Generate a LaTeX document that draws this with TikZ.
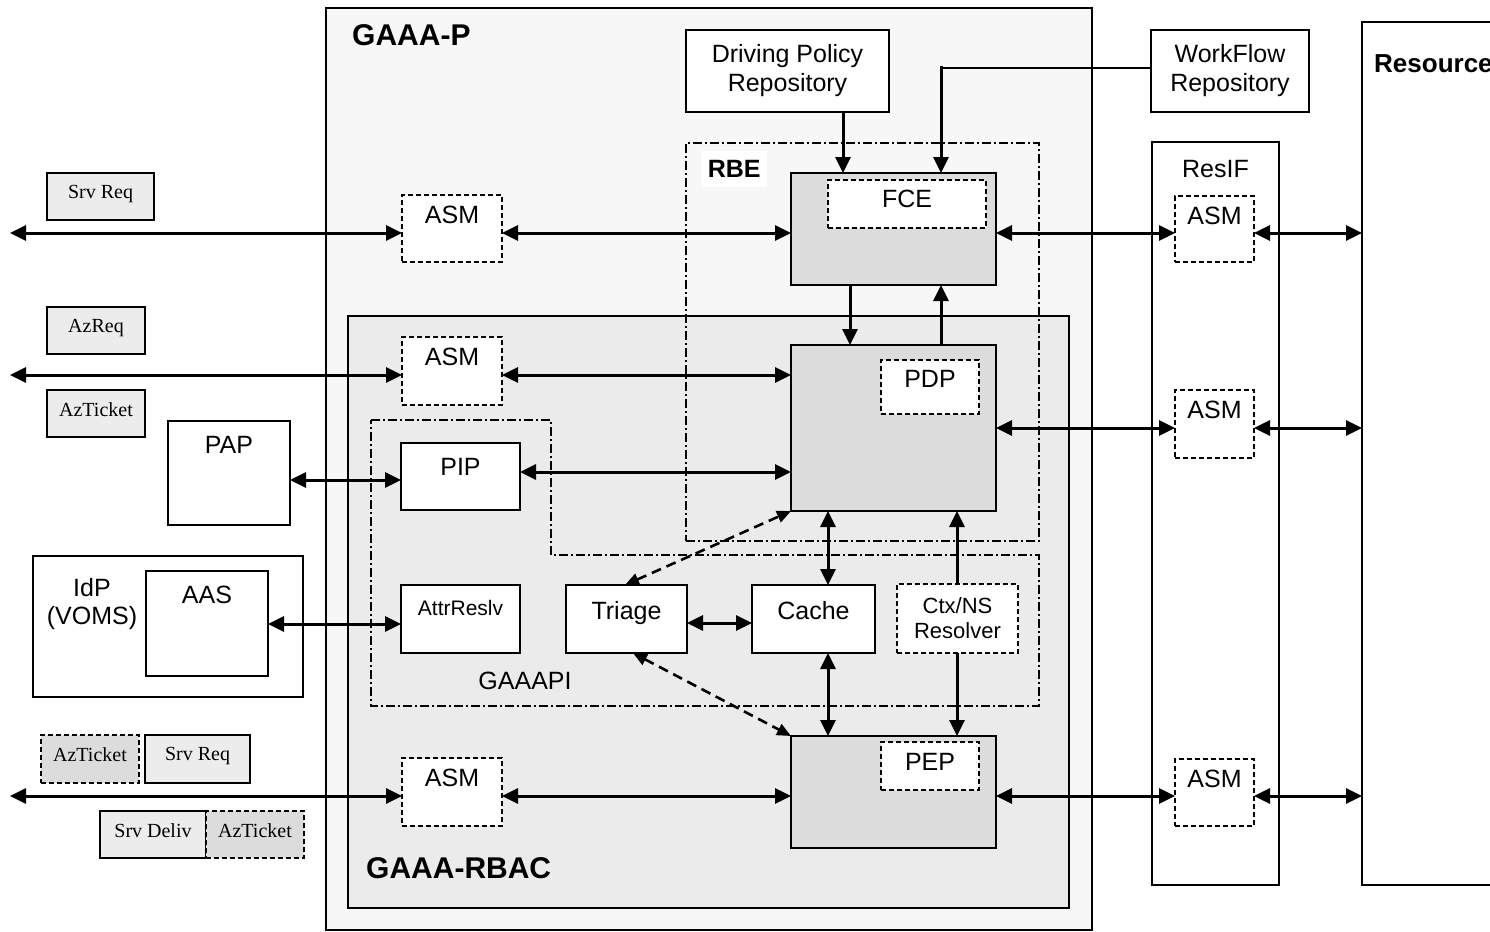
\documentclass[tikz,border=0pt]{standalone}
\usepackage{fontspec}
\setmainfont{Liberation Serif}
\setsansfont{Liberation Sans}
\newfontfamily\arialf{Liberation Sans}
\newfontfamily\timesf{Liberation Serif}
\usetikzlibrary{arrows.meta}
\definecolor{bgp}{HTML}{F7F7F7}
\definecolor{bgr}{HTML}{EBEBEB}
\definecolor{gbx}{HTML}{DCDCDC}
\definecolor{lbx}{HTML}{ECECEC}
\newcommand\fs[1]{\fontsize{#1}{#1}\selectfont}
\tikzset{
  box/.style={draw, line width=1.4pt, fill=white, inner sep=0pt, outer sep=0pt, font=\arialf\fs{25}},
  dbox/.style={box, dash pattern=on 5pt off 3pt, line width=1.7pt},
  gbox/.style={box, fill=gbx},
  tbox/.style={box, fill=lbx, font=\timesf\fs{20}},
  tdbox/.style={tbox, fill=gbx, dash pattern=on 5pt off 3pt, line width=1.7pt},
  ddot/.style={line width=1.5pt, dash pattern=on 9pt off 3pt on 2pt off 3pt},
  tl/.style={anchor=north, inner sep=0pt, yshift=-#1, font=\arialf\fs{25}},
  tl/.default=11pt,
  tt/.style={anchor=north, inner sep=0pt, yshift=-12pt, font=\timesf\fs{20}},
  tip/.tip={Triangle[length=16pt,width=15pt]},
  arr/.style={line width=3pt, -tip},
  darr/.style={line width=3pt, tip-tip},
  dsh/.style={line width=2.6pt, dash pattern=on 10pt off 6pt, {Triangle[length=14pt,width=12pt]}-{Triangle[length=14pt,width=12pt]}},
  head/.style={font=\arialf\bfseries\fs{30}, inner sep=0pt},
}
\begin{document}
\begin{tikzpicture}[x=1pt,y=-1pt]
\useasboundingbox (0,0) rectangle (1490,931);
% containers
\node[box, fill=bgp, line width=2pt, minimum width=766pt, minimum height=922pt] (gaaap) at (709,469) {};
\node[head, anchor=north west] (gaaaplbl) at (352,24) {GAAA-P};
\node[box, fill=bgr, minimum width=721pt, minimum height=592pt] (rbac) at (708.5,612) {};
\node[head, anchor=north west] (rbaclbl) at (366,857) {GAAA-RBAC};
\node[box, minimum width=158pt, minimum height=863pt] (resource) at (1441,453.5) {};
\node[head, font=\arialf\bfseries\fs{26}, anchor=north west] (reslbl) at (1374,54) {Resource};
\node[box, minimum width=127pt, minimum height=743pt,
      label={[tl=18pt]north:ResIF}] (resif) at (1215.5,513.5) {};
% RBE and GAAAPI frames
\node[ddot, draw, minimum width=353pt, minimum height=398pt, inner sep=0pt] (rbe) at (862.5,342) {};
\node[fill=white, font=\arialf\bfseries\fs{25}, minimum width=66pt, minimum height=36pt, inner sep=0pt, anchor=north west] (rbelbl) at (701,151) {RBE};
\draw[ddot] (371,420) -- (551,420) -- (551,555) -- (1039,555) -- (1039,706) -- (371,706) -- cycle;
\node[font=\arialf\fs{25}, inner sep=0pt] (gaaapilbl) at (525,681) {GAAAPI};
% repositories
\node[box, minimum width=203pt, minimum height=82pt, align=center] (drive) at (787.5,71) {Driving Policy\\[4pt]Repository};
\node[box, minimum width=158pt, minimum height=82pt, align=center] (wf) at (1230,71) {WorkFlow\\[4pt]Repository};
% engines
\node[gbox, minimum width=205pt, minimum height=112pt] (fcebox) at (893.5,229) {};
\node[dbox, minimum width=158pt, minimum height=48pt, label={[tl=10pt]north:FCE}] (fce) at (907,204) {};
\node[gbox, minimum width=205pt, minimum height=166pt] (pdpbox) at (893.5,428) {};
\node[dbox, minimum width=98pt, minimum height=54pt, label={[tl=10pt]north:PDP}] (pdp) at (930,387) {};
\node[gbox, minimum width=205pt, minimum height=112pt] (pepbox) at (893.5,792) {};
\node[dbox, minimum width=98pt, minimum height=48pt, label={[tl=11pt]north:PEP}] (pep) at (930,766) {};
% ASMs
\node[dbox, minimum width=100pt, minimum height=67pt, label={[tl]north:ASM}] (asm1) at (452,228.5) {};
\node[dbox, minimum width=100pt, minimum height=68pt, label={[tl]north:ASM}] (asm2) at (452,371) {};
\node[dbox, minimum width=100pt, minimum height=68pt, label={[tl]north:ASM}] (asm3) at (452,792) {};
\node[dbox, minimum width=79pt, minimum height=66pt, label={[tl]north:ASM}] (rasm1) at (1214.5,229) {};
\node[dbox, minimum width=79pt, minimum height=68pt, label={[tl]north:ASM}] (rasm2) at (1214.5,424) {};
\node[dbox, minimum width=79pt, minimum height=67pt, label={[tl]north:ASM}] (rasm3) at (1214.5,792.5) {};
% GAAAPI modules
\node[box, minimum width=119pt, minimum height=67pt, label={[tl=15pt]north:PIP}] (pip) at (460.5,476.5) {};
\node[box, minimum width=119pt, minimum height=68pt, label={[tl=15pt, font=\arialf\fs{21}]north:AttrReslv}] (attr) at (460.5,619) {};
\node[box, minimum width=121pt, minimum height=68pt, label={[tl=16pt]north:Triage}] (triage) at (626.5,619) {};
\node[box, minimum width=123pt, minimum height=68pt, label={[tl=16pt]north:Cache}] (cache) at (813.5,619) {};
\node[dbox, minimum width=121pt, minimum height=69pt, align=center, font=\arialf\fs{22}] (ctx) at (957.5,618.5) {Ctx/NS\\[3pt]Resolver};
% external
\node[box, minimum width=122pt, minimum height=104pt, label={[tl=15pt]north:PAP}] (pap) at (229,473) {};
\node[box, minimum width=270pt, minimum height=141pt] (idp) at (168,626.5) {};
\node[font=\arialf\fs{25}, align=center, inner sep=0pt] (idplbl) at (92,604) {IdP\\[3pt](VOMS)};
\node[box, minimum width=122pt, minimum height=105pt, label={[tl=15pt]north:AAS}] (aas) at (207,623.5) {};
% message labels
\node[tbox, minimum width=107pt, minimum height=47pt, label={[tt]north:Srv Req}] (m1) at (100.5,196.5) {};
\node[tbox, minimum width=98pt, minimum height=47pt, label={[tt]north:AzReq}] (m2) at (96,330.5) {};
\node[tbox, minimum width=98pt, minimum height=47pt, label={[tt]north:AzTicket}] (m3) at (96,413.5) {};
\node[tdbox, minimum width=98pt, minimum height=48pt, label={[tt]north:AzTicket}] (m4) at (90,759) {};
\node[tbox, minimum width=105pt, minimum height=48pt, label={[tt]north:Srv Req}] (m5) at (197.5,759) {};
\node[tbox, minimum width=106pt, minimum height=47pt, label={[tt]north:Srv Deliv}] (m6) at (153,834.5) {};
\node[tdbox, minimum width=98pt, minimum height=47pt, label={[tt]north:AzTicket}] (m7) at (255,834.5) {};
% helper coordinates
\coordinate (e1) at (10,233);
\coordinate (e2) at (10,375);
\coordinate (e3) at (10,796);
\coordinate (yp) at (0,428);
\coordinate (ypap) at (0,480);
\coordinate (ypip) at (0,472);
\coordinate (yaas) at (0,624);
\coordinate (ytc) at (0,623);
\coordinate (xa) at (843,0);
\coordinate (xb) at (941,0);
\coordinate (xc) at (850,0);
\coordinate (xd) at (828,0);
\coordinate (xe) at (957,0);
\coordinate (wfc) at (941,68);
\coordinate (xt1) at (625,0);
\coordinate (xt2) at (633,0);
% row 1
\draw[darr] (e1) -- (e1 -| asm1.west);
\draw[darr] (asm1.east |- e1) -- (e1 -| fcebox.west);
\draw[darr] (fcebox.east |- e1) -- (e1 -| rasm1.west);
\draw[darr] (rasm1.east |- e1) -- (e1 -| resource.west);
% row 2
\draw[darr] (e2) -- (e2 -| asm2.west);
\draw[darr] (asm2.east |- e2) -- (e2 -| pdpbox.west);
\draw[darr] (pdpbox.east |- yp) -- (rasm2.west |- yp);
\draw[darr] (rasm2.east |- yp) -- (resource.west |- yp);
\draw[darr] (pap.east |- ypap) -- (pip.west |- ypap);
\draw[darr] (pip.east |- ypip) -- (pdpbox.west |- ypip);
\draw[darr] (aas.east |- yaas) -- (attr.west |- yaas);
\draw[darr] (triage.east |- ytc) -- (cache.west |- ytc);
% row 3
\draw[darr] (e3) -- (e3 -| asm3.west);
\draw[darr] (asm3.east |- e3) -- (e3 -| pepbox.west);
\draw[darr] (pepbox.east |- e3) -- (e3 -| rasm3.west);
\draw[darr] (rasm3.east |- e3) -- (e3 -| resource.west);
% verticals
\draw[arr] (drive.south -| xa) -- (fcebox.north -| xa);
\draw[line width=1.4pt] (wf.west |- wfc) -- (wfc);
\draw[arr] ([yshift=1.5pt]wfc) -- (fcebox.north -| xb);
\draw[arr] (fcebox.south -| xc) -- (pdpbox.north -| xc);
\draw[arr] (pdpbox.north -| xb) -- (fcebox.south -| xb);
\draw[darr] (cache.north -| xd) -- (pdpbox.south -| xd);
\draw[arr] (ctx.north -| xe) -- (pdpbox.south -| xe);
\draw[darr] (cache.south -| xd) -- (pepbox.north -| xd);
\draw[arr] (ctx.south -| xe) -- (pepbox.north -| xe);
% dashed
\draw[dsh] (triage.north -| xt1) -- (pdpbox.south west);
\draw[dsh] (triage.south -| xt2) -- (pepbox.north west);
\end{tikzpicture}
\end{document}
